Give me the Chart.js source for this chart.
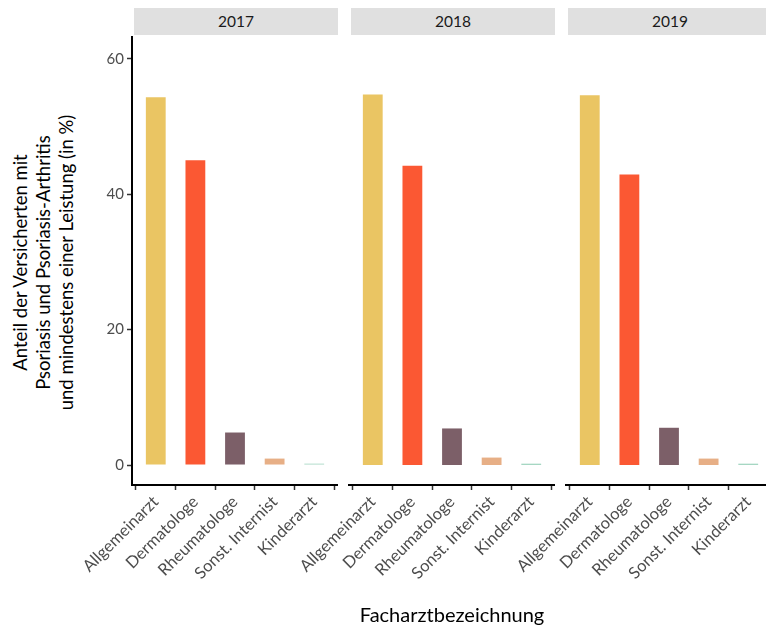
<!DOCTYPE html>
<html>
<head>
<meta charset="utf-8">
<script src="https://cdn.jsdelivr.net/npm/chart.js@4.4.1/dist/chart.umd.min.js"></script>
<style>
  body { margin: 0; background: #fff; }
  #wrap { position: relative; width: 766px; height: 628px; overflow: hidden; font-family: Lato, sans-serif; }
  .strip { position: absolute; top: 8px; height: 27px; background: #e0e0e0; color: #1a1a1a;
           font-size: 15.5px; line-height: 27px; text-align: center; }
  #ytitle { position: absolute; left: -157px; top: 228px; width: 400px; height: 69px;
            transform: rotate(-90deg); text-align: center; font-size: 18.5px; line-height: 23px; color: #000; }
  canvas { position: absolute; top: 22px; }
</style>
</head>
<body>
<div id="wrap">
  <div class="strip" id="s0" style="left:134px;width:204px"></div>
  <div class="strip" id="s1" style="left:351px;width:204px"></div>
  <div class="strip" id="s2" style="left:568px;width:204px"></div>
  <div id="ytitle"></div>
  <canvas id="c0" width="338" height="606" style="left:0px"></canvas>
  <canvas id="c1" width="316" height="606" style="left:239px"></canvas>
  <canvas id="c2" width="316" height="606" style="left:456px"></canvas>
</div>
<script>
const categories = ["Allgemeinarzt", "Dermatologe", "Rheumatologe", "Sonst. Internist", "Kinderarzt"];
const years = ["2017", "2018", "2019"];
const share2017 = [54.3, 45.0, 4.8, 0.95, 0.2];
const share2018 = [54.7, 44.2, 5.4, 1.1, 0.2];
const share2019 = [54.6, 42.9, 5.5, 0.95, 0.2];
const barColors = ["#eac563", "#fb5833", "#7c5f68", "#e7af86", "#a6d7c3"];
const yTicks = [0, 20, 40, 60];

const yTitle = ["Anteil der Versicherten mit", "Psoriasis und Psoriasis-Arthritis", "und mindestens einer Leistung (in %)"];
const xTitle = "Facharztbezeichnung";

function panel(canvasId, values, showY, showXTitle) {
  const ctx = document.getElementById(canvasId).getContext("2d");
  return new Chart(ctx, {
    type: "bar",
    data: {
      datasets: [{
        data: categories.map((c, i) => ({ x: i, y: values[i] })),
        backgroundColor: barColors,
        borderWidth: 0,
        barPercentage: 0.5,
        categoryPercentage: 1,
      }],
    },
    options: {
      responsive: false,
      animation: false,
      devicePixelRatio: 1,
      // extra left room lets the rotated labels hang past the panel edge
      layout: { padding: { top: 15, left: showY ? 0 : 110, right: 0, bottom: 0 } },
      plugins: { legend: { display: false }, tooltip: { enabled: false } },
      scales: {
        x: {
          type: "linear",
          offset: false,
          min: -0.6,
          max: 4.6,
          afterBuildTicks: (s) => { s.ticks = categories.map((c, i) => ({ value: i })); },
          afterFit: (s) => { s.height = 143; },
          ticks: {
            autoSkip: false,
            minRotation: 45,
            maxRotation: 45,
            padding: 2,
            color: "#4d4d4d",
            font: { family: "Lato", size: 16.5 },
            callback: (v) => categories[v],
          },
          grid: { display: true, drawOnChartArea: false, drawTicks: true, tickLength: 5, tickWidth: 1.5, tickColor: "#333" },
          border: { display: true, color: "#000", width: 2 },
          title: {
            display: showXTitle,
            text: xTitle,
            color: "#000",
            font: { family: "Lato", size: 20 },
            padding: { top: 0, bottom: 0 },
          },
        },
        y: {
          display: showY,
          min: -2.95,
          max: 63.2,
          afterBuildTicks: (s) => { s.ticks = yTicks.map((v) => ({ value: v })); },
          afterFit: (s) => { s.width = showY ? 132 : 0; },
          ticks: { color: "#4d4d4d", padding: 3, font: { family: "Lato", size: 15 } },
          grid: { display: true, drawOnChartArea: false, drawTicks: true, tickLength: 5, tickWidth: 1.5, tickColor: "#333" },
          border: { display: true, color: "#000", width: 2 },
        },
      },
    },
  });
}

years.forEach((y, i) => { document.getElementById("s" + i).textContent = y; });
document.getElementById("ytitle").innerHTML = yTitle.join("<br>");
panel("c0", share2017, true, false);
panel("c1", share2018, false, true);
panel("c2", share2019, false, false);
</script>
</body>
</html>
